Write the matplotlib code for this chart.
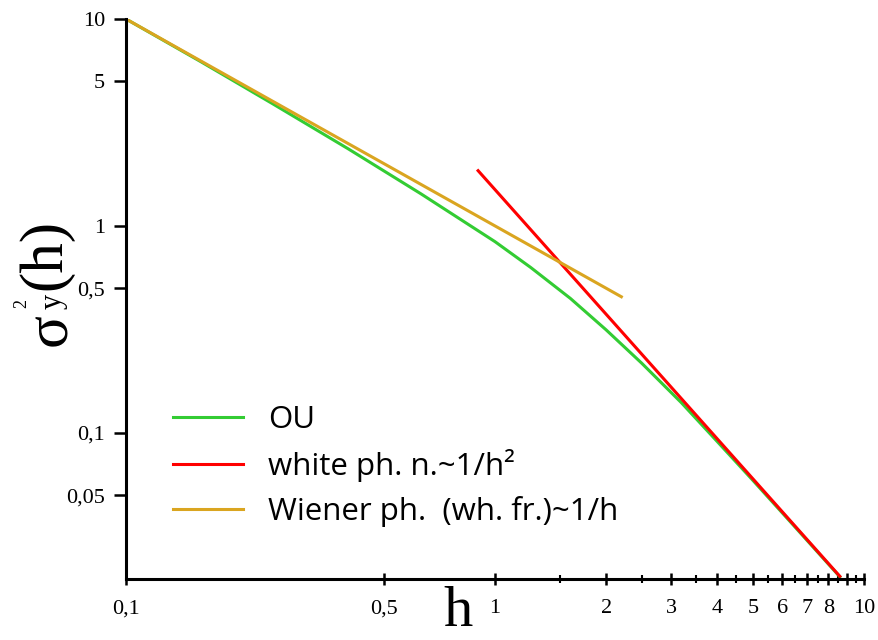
import numpy as np
import matplotlib
matplotlib.use("Agg")
import matplotlib.pyplot as plt
from matplotlib.ticker import FixedLocator, FixedFormatter, NullFormatter

# sigma^2_y(h) curves, values read on log-log scale
h_ou = [0.1, 0.16, 0.25, 0.4, 0.63, 1, 1.25, 1.6, 2, 2.5, 3.2, 4, 5, 6.3, 8, 8.6]
s_ou = [10, 6.2, 3.89, 2.36, 1.43, 0.84, 0.63, 0.447, 0.315, 0.217, 0.14,
        0.091, 0.059, 0.0374, 0.0233, 0.0202]

h_white = [0.9, 8.6]          # white phase noise ~ 1/h^2
s_white = [1.85, 0.0203]

h_wiener = [0.1, 2.2]         # Wiener phase (white freq.) ~ 1/h
s_wiener = [10, 0.455]

labels = ['OU', 'white ph. n.~1/h²', 'Wiener ph.  (wh. fr.)~1/h']

xticks = [0.1, 0.5, 1, 2, 3, 4, 5, 6, 7, 8, 9, 10]
xticklabels = ['0,1', '0,5', '1', '2', '3', '4', '5', '6', '7', '8', '', '10']
xminor = [1.5, 2.5, 3.5, 4.5, 5.5, 6.5, 7.5, 8.5, 9.5]
yticks = [0.05, 0.1, 0.5, 1, 5, 10]
yticklabels = ['0,05', '0,1', '0,5', '1', '5', '10']

W, H = 879, 640
fig = plt.figure(figsize=(W / 100, H / 100), dpi=100)
ax = fig.add_axes([126/W, 61/H, 738/W, 560/H])

ax.plot(h_ou, s_ou, color='#33cc33', lw=2.2, label=labels[0])
ax.plot(h_white, s_white, color='#ff0000', lw=2.2, label=labels[1])
ax.plot(h_wiener, s_wiener, color='#daa520', lw=2.2, label=labels[2])

ax.set_xscale('log')
ax.set_yscale('log')
ax.set_xlim(0.1, 10)
ax.set_ylim(0.0197, 10)

for s in ['top', 'right']:
    ax.spines[s].set_visible(False)
for s in ['left', 'bottom']:
    ax.spines[s].set_linewidth(2.2)

serif = 'Liberation Serif'
ax.xaxis.set_major_locator(FixedLocator(xticks))
ax.xaxis.set_major_formatter(FixedFormatter(xticklabels))
ax.xaxis.set_minor_locator(FixedLocator(xminor))
ax.xaxis.set_minor_formatter(NullFormatter())
ax.yaxis.set_major_locator(FixedLocator(yticks))
ax.yaxis.set_major_formatter(FixedFormatter(yticklabels))
ax.yaxis.set_minor_locator(FixedLocator([]))

ax.tick_params(axis='x', which='major', direction='inout', length=9, width=1.8,
               labelsize=16, pad=10)
ax.tick_params(axis='x', which='minor', direction='inout', length=6, width=1.5)
ax.tick_params(axis='y', which='major', direction='out', length=9, width=1.8,
               labelsize=16, pad=6)
for lab in ax.get_xticklabels() + ax.get_yticklabels():
    lab.set_fontfamily(serif)


def px_text(x, y, s, size, **kw):
    # place text by pixel position (origin top-left)
    return fig.text(x / W, 1 - y / H, s, fontsize=size, family=serif, **kw)


# x axis label
px_text(458, 626, 'h', 42, ha='center', va='baseline')

# y axis label sigma^2_y(h), built from pieces so the indices stay small
rot = dict(rotation=90, rotation_mode='anchor', ha='center', va='baseline')
px_text(60, 255, '(h)', 44, **rot)
px_text(66, 330, 'σ', 44, **rot)
px_text(26, 304, '2', 13, **rot)
px_text(61, 301, 'y', 22, **rot)

ax.legend(loc='upper left', bbox_to_anchor=((173 - 126) / 738, 1 - (405 - 19) / 560),
          frameon=False, prop={'family': 'Open Sans', 'size': 22.5},
          handlelength=2.24, handletextpad=0.8, labelspacing=0.45,
          borderaxespad=0, borderpad=0)

fig.savefig('out.png', dpi=100)
